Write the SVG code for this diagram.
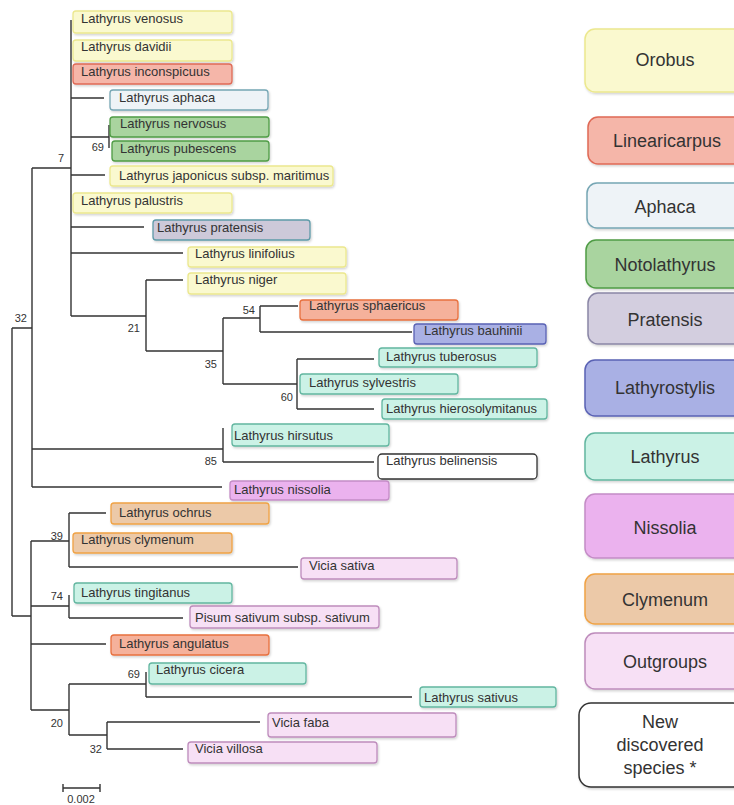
<svg xmlns="http://www.w3.org/2000/svg" width="734" height="805" viewBox="0 0 734 805">
<style>
text{font-family:"Liberation Sans",Arial,sans-serif;fill:#333}
.sp{font-size:13px}
.nl{font-size:11px;text-anchor:end}
.lg{font-size:18px;text-anchor:middle}
.br{fill:none;stroke:#333;stroke-width:1.4}
.b{stroke-width:1.3;filter:url(#sh)}
.lb{stroke-width:1.5;filter:url(#sh)}
.oro{fill:#faf9cf;stroke:#ece88e}
.lin{fill:#f5b6a9;stroke:#df6a56}
.aph{fill:#eef3f7;stroke:#76a6b4}
.not{fill:#a9d49f;stroke:#4f9c45}
.pra{fill:#d3cedf;stroke:#8a86a6}
.prs{fill:#cdc9d9;stroke:#5e9aa8}
.lst{fill:#a9b0e4;stroke:#5a62b4}
.lat{fill:#cbf2e6;stroke:#62b6a0}
.nis{fill:#ebb2ee;stroke:#c48cc6}
.cly{fill:#ecc9a8;stroke:#f0a244}
.out{fill:#f7e0f5;stroke:#be8cbc}
.sph{fill:#f5b19b;stroke:#e8703e}
.new{fill:#ffffff;stroke:#333}
</style>
<defs>
<filter id="sh" x="-5%" y="-20%" width="115%" height="150%">
<feDropShadow dx="1" dy="1.5" stdDeviation="1" flood-color="#000" flood-opacity="0.18"/>
</filter>
</defs>
<rect width="734" height="805" fill="#fff"/>

<g id="connectors" class="br">
<path d="M12,328 V616 M12,328 H32 M12,616 H31"/>
<path d="M32,168 V487 M32,168 H71"/>
<path d="M71,20 V316"/>
<path d="M71,98 H104"/>
<path d="M71,137 H109 M109,125 V148"/>
<path d="M71,175 H105"/>
<path d="M71,227 H144"/>
<path d="M71,253 H183"/>
<path d="M71,316 H146 M146,280 V351 M146,280 H183"/>
<path d="M146,351 H223 M223,318 V384"/>
<path d="M223,318 H260 M260,306 V332 M260,306 H298 M260,332 H412"/>
<path d="M223,384 H297 M297,359 V409 M297,359 H374 M297,409 H374"/>
<path d="M32,449 H223 M223,428 V462 M223,462 H374"/>
<path d="M32,487 H222"/>
<path d="M31,541 V710"/>
<path d="M31,541 H69 M69,513 V567 M69,513 H106 M69,567 H298"/>
<path d="M31,606 H69 M69,595 V618 M69,618 H183"/>
<path d="M31,644 H106"/>
<path d="M31,710 H69 M69,684 V735 M69,684 H146 M146,672 V697 M146,697 H412"/>
<path d="M69,735 H107 M107,722 V749 M107,722 H260 M107,749 H183"/>
<path d="M63,788 H100 M63,784 V792 M100,784 V792"/>
</g>

<g id="node-labels">
<text class="nl" x="64" y="162">7</text>
<text class="nl" x="104" y="151">69</text>
<text class="nl" x="27" y="322">32</text>
<text class="nl" x="140" y="332">21</text>
<text class="nl" x="217" y="368">35</text>
<text class="nl" x="255" y="314">54</text>
<text class="nl" x="293" y="401">60</text>
<text class="nl" x="217" y="465">85</text>
<text class="nl" x="63" y="540">39</text>
<text class="nl" x="63" y="600">74</text>
<text class="nl" x="63" y="727">20</text>
<text class="nl" x="140" y="678">69</text>
<text class="nl" x="102" y="753">32</text>
<text x="81" y="803" font-size="11" text-anchor="middle">0.002</text>
</g>

<g id="venosus"><rect class="b oro" x="73" y="11" width="159" height="22" rx="3"/><text class="sp" x="81" y="23">Lathyrus venosus</text></g>
<g id="davidii"><rect class="b oro" x="73" y="40" width="159" height="21" rx="3"/><text class="sp" x="81" y="51">Lathyrus davidii</text></g>
<g id="inconspicuus"><rect class="b lin" x="73" y="64" width="159" height="20" rx="3"/><text class="sp" x="81" y="76">Lathyrus inconspicuus</text></g>
<g id="aphaca"><rect class="b aph" x="110" y="90" width="158" height="20" rx="3"/><text class="sp" x="119" y="102">Lathyrus aphaca</text></g>
<g id="nervosus"><rect class="b not" x="110" y="117" width="159" height="20" rx="3"/><text class="sp" x="120" y="128">Lathyrus nervosus</text></g>
<g id="pubescens"><rect class="b not" x="112" y="141" width="157" height="20" rx="3"/><text class="sp" x="120" y="153">Lathyrus pubescens</text></g>
<g id="japonicus"><rect class="b oro" x="110" y="166" width="223" height="20" rx="3"/><text class="sp" x="119" y="180">Lathyrus japonicus subsp. maritimus</text></g>
<g id="palustris"><rect class="b oro" x="73" y="193" width="159" height="20" rx="3"/><text class="sp" x="81" y="205">Lathyrus palustris</text></g>
<g id="pratensis"><rect class="b prs" x="153" y="220" width="157" height="20" rx="3"/><text class="sp" x="157" y="232">Lathyrus pratensis</text></g>
<g id="linifolius"><rect class="b oro" x="188" y="247" width="158" height="20" rx="3"/><text class="sp" x="195" y="258">Lathyrus linifolius</text></g>
<g id="niger"><rect class="b oro" x="188" y="273" width="158" height="21" rx="3"/><text class="sp" x="195" y="284">Lathyrus niger</text></g>
<g id="sphaericus"><rect class="b sph" x="300" y="300" width="158" height="20" rx="3"/><text class="sp" x="309" y="310">Lathyrus sphaericus</text></g>
<g id="bauhinii"><rect class="b lst" x="414" y="324" width="132" height="20" rx="3"/><text class="sp" x="424" y="335">Lathyrus bauhinii</text></g>
<g id="tuberosus"><rect class="b lat" x="379" y="348" width="158" height="19" rx="3"/><text class="sp" x="386" y="361">Lathyrus tuberosus</text></g>
<g id="sylvestris"><rect class="b lat" x="300" y="374" width="158" height="20" rx="3"/><text class="sp" x="309" y="387">Lathyrus sylvestris</text></g>
<g id="hierosolymitanus"><rect class="b lat" x="382" y="399" width="165" height="20" rx="3"/><text class="sp" x="386" y="413">Lathyrus hierosolymitanus</text></g>
<g id="hirsutus"><rect class="b lat" x="232" y="424" width="157" height="22" rx="3"/><text class="sp" x="234" y="440">Lathyrus hirsutus</text></g>
<g id="belinensis"><rect class="b new" x="378" y="454" width="159" height="25" rx="4"/><text class="sp" x="386" y="465">Lathyrus belinensis</text></g>
<g id="nissolia"><rect class="b nis" x="230" y="481" width="159" height="19" rx="3"/><text class="sp" x="234" y="494">Lathyrus nissolia</text></g>
<g id="ochrus"><rect class="b cly" x="111" y="503" width="158" height="21" rx="3"/><text class="sp" x="119" y="517">Lathyrus ochrus</text></g>
<g id="clymenum"><rect class="b cly" x="73" y="533" width="159" height="20" rx="3"/><text class="sp" x="81" y="544">Lathyrus clymenum</text></g>
<g id="vicia-sativa"><rect class="b out" x="301" y="558" width="156" height="21" rx="3"/><text class="sp" x="309" y="570">Vicia sativa</text></g>
<g id="tingitanus"><rect class="b lat" x="74" y="583" width="158" height="20" rx="3"/><text class="sp" x="81" y="597">Lathyrus tingitanus</text></g>
<g id="pisum"><rect class="b out" x="190" y="606" width="189" height="22" rx="3"/><text class="sp" x="195" y="622">Pisum sativum subsp. sativum</text></g>
<g id="angulatus"><rect class="b sph" x="111" y="635" width="158" height="20" rx="3"/><text class="sp" x="119" y="648">Lathyrus angulatus</text></g>
<g id="cicera"><rect class="b lat" x="149" y="663" width="157" height="21" rx="3"/><text class="sp" x="156" y="674">Lathyrus cicera</text></g>
<g id="sativus"><rect class="b lat" x="420" y="687" width="136" height="20" rx="3"/><text class="sp" x="424" y="702">Lathyrus sativus</text></g>
<g id="faba"><rect class="b out" x="268" y="713" width="188" height="24" rx="3"/><text class="sp" x="272" y="727">Vicia faba</text></g>
<g id="villosa"><rect class="b out" x="188" y="742" width="189" height="21" rx="3"/><text class="sp" x="195" y="753">Vicia villosa</text></g>

<g id="legend-orobus"><rect class="lb oro" x="585" y="29" width="160" height="63" rx="10"/><text class="lg" x="665" y="66">Orobus</text></g>
<g id="legend-linearicarpus"><rect class="lb lin" x="588" y="117" width="157" height="47" rx="10"/><text class="lg" x="667" y="147">Linearicarpus</text></g>
<g id="legend-aphaca"><rect class="lb aph" x="587" y="183" width="158" height="45" rx="10"/><text class="lg" x="665" y="213">Aphaca</text></g>
<g id="legend-notolathyrus"><rect class="lb not" x="586" y="240" width="159" height="48" rx="10"/><text class="lg" x="665" y="271">Notolathyrus</text></g>
<g id="legend-pratensis"><rect class="lb pra" x="588" y="293" width="157" height="51" rx="10"/><text class="lg" x="665" y="326">Pratensis</text></g>
<g id="legend-lathyrostylis"><rect class="lb lst" x="585" y="360" width="160" height="56" rx="10"/><text class="lg" x="665" y="394">Lathyrostylis</text></g>
<g id="legend-lathyrus"><rect class="lb lat" x="585" y="433" width="160" height="47" rx="10"/><text class="lg" x="665" y="463">Lathyrus</text></g>
<g id="legend-nissolia"><rect class="lb nis" x="585" y="494" width="160" height="64" rx="10"/><text class="lg" x="665" y="534">Nissolia</text></g>
<g id="legend-clymenum"><rect class="lb cly" x="585" y="574" width="160" height="50" rx="10"/><text class="lg" x="665" y="606">Clymenum</text></g>
<g id="legend-outgroups"><rect class="lb out" x="585" y="633" width="160" height="56" rx="10"/><text class="lg" x="665" y="668">Outgroups</text></g>
<g id="legend-new"><rect class="lb new" x="579" y="703" width="166" height="84" rx="12"/><text class="lg" x="660" y="728">New</text><text class="lg" x="660" y="751">discovered</text><text class="lg" x="660" y="774">species *</text></g>
</svg>
